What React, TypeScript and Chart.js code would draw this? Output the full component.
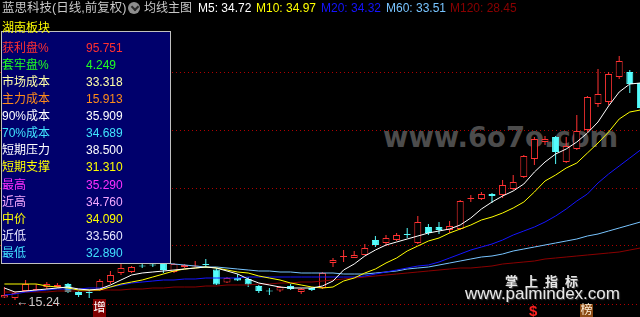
import React, { useEffect, useRef } from "react";
import { Chart, registerables } from "chart.js";
Chart.register(...registerables);

// ---------- data ----------
const candleIndex = [
  0, 1, 2, 3, 4, 5, 6, 7, 8, 9, 10, 11, 12, 13, 14, 15, 16, 17, 18, 19, 20,
  21, 22, 23, 24, 25, 26, 27, 28, 29, 30, 31, 32, 33, 34, 35, 36, 37, 38, 39,
  40, 41, 42, 43, 44, 45, 46, 47, 48, 49, 50, 51, 52, 53, 54, 55, 56, 57, 58,
  59, 60,
];
const opens = [15.49, 15.44, 16.14, 16.24, 16.54, 16.54, 16.84, 16.04, 16.04, 16.24, 17.04, 17.94, 18.04, 18.69, 18.79, 18.94, 18.04, 18.54, 18.59, 18.84, 18.29, 16.99, 17.44, 17.34, 16.64, 16.19, 16.19, 16.64, 16.04, 16.44, 16.44, 18.94, 19.54, 19.44, 19.74, 21.24, 20.94, 21.24, 21.84, 20.94, 22.54, 22.54, 22.24, 22.34, 25.34, 25.34, 25.84, 25.74, 26.34, 27.54, 29.34, 31.04, 31.54, 29.04, 30.34, 32.24, 34.84, 35.04, 37.54, 38.04, 36.94];
const closes = [15.74, 15.94, 16.84, 16.34, 16.84, 16.74, 16.04, 15.74, 15.94, 17.14, 17.74, 18.44, 18.54, 18.59, 18.69, 18.24, 18.84, 18.74, 18.69, 18.74, 16.79, 17.44, 17.19, 16.79, 16.14, 16.09, 16.54, 16.34, 16.34, 16.24, 17.94, 19.24, 19.64, 19.74, 20.44, 20.74, 21.44, 21.74, 21.74, 23.04, 21.94, 22.24, 22.64, 25.14, 25.44, 25.84, 25.64, 26.74, 27.04, 29.64, 31.34, 31.34, 30.04, 30.64, 32.14, 35.54, 35.84, 37.84, 39.14, 36.84, 34.44];
const highs = [16.54, 16.04, 17.24, 16.84, 17.04, 16.94, 16.94, 16.14, 16.24, 17.34, 18.14, 18.84, 18.64, 19.04, 19.04, 19.04, 18.94, 18.84, 19.14, 19.34, 18.44, 17.54, 17.84, 17.54, 16.74, 16.44, 16.64, 16.84, 16.44, 16.54, 18.04, 19.44, 20.24, 20.14, 20.84, 21.64, 21.74, 21.94, 22.44, 23.64, 22.84, 23.04, 23.14, 25.24, 25.74, 26.04, 25.94, 27.24, 27.74, 29.74, 31.54, 31.64, 31.64, 31.54, 33.74, 35.64, 38.34, 38.04, 39.64, 38.24, 37.04];
const lows = [15.44, 15.24, 16.04, 16.14, 16.34, 16.44, 15.94, 15.54, 15.44, 16.14, 16.84, 17.74, 17.94, 18.44, 18.54, 17.94, 17.94, 18.44, 18.54, 18.44, 16.74, 16.94, 17.14, 16.54, 15.94, 15.74, 16.04, 16.24, 15.84, 16.14, 16.34, 18.54, 19.04, 19.44, 19.74, 20.54, 20.64, 21.14, 21.44, 20.84, 21.74, 21.84, 21.94, 22.24, 25.04, 25.24, 24.94, 25.44, 26.24, 27.44, 28.74, 30.74, 28.84, 28.94, 30.24, 32.04, 34.54, 34.74, 37.34, 35.94, 34.24];

const ma5 = [16.44, 16.04, 16.14, 16.24, 16.34, 16.44, 16.54, 16.34, 16.24, 16.34, 16.74, 17.24, 17.74, 17.94, 18.04, 18.14, 18.24, 18.34, 18.44, 18.54, 18.44, 18.14, 17.84, 17.34, 16.94, 16.74, 16.54, 16.44, 16.44, 16.44, 16.64, 17.14, 18.24, 18.84, 19.64, 20.24, 20.74, 21.04, 21.34, 21.64, 21.94, 22.14, 22.34, 22.74, 23.44, 24.34, 25.04, 25.64, 26.14, 26.84, 28.04, 29.04, 29.84, 30.34, 31.04, 31.94, 33.04, 34.64, 36.04, 36.84, 36.94];
const ma10 = [16.84, 16.84, 16.84, 16.84, 16.64, 16.54, 16.44, 16.24, 16.24, 16.24, 16.54, 16.84, 17.04, 17.24, 17.54, 17.84, 18.14, 18.34, 18.44, 18.54, 18.44, 18.24, 18.04, 17.94, 17.64, 17.44, 17.24, 16.94, 16.74, 16.54, 16.44, 16.54, 17.14, 17.44, 17.94, 18.34, 18.94, 19.44, 20.14, 20.64, 21.14, 21.44, 21.94, 22.34, 22.74, 23.24, 23.54, 23.94, 24.44, 25.04, 26.04, 27.14, 27.74, 28.44, 28.94, 29.94, 30.94, 32.04, 33.34, 34.04, 34.24];
const ma20 = [15.74, 15.84, 16.04, 16.14, 16.24, 16.34, 16.34, 16.34, 16.44, 16.44, 16.54, 16.74, 16.94, 17.04, 17.14, 17.24, 17.24, 17.34, 17.34, 17.44, 17.44, 17.44, 17.44, 17.54, 17.54, 17.54, 17.54, 17.54, 17.54, 17.54, 17.54, 17.54, 17.54, 17.54, 17.64, 17.84, 18.04, 18.24, 18.44, 18.64, 18.74, 19.04, 19.44, 19.84, 20.24, 20.54, 20.84, 21.24, 21.74, 22.14, 22.54, 23.04, 23.64, 24.34, 25.14, 25.84, 26.94, 27.84, 28.64, 29.44, 30.24];
const ma60 = [19.64, 19.54, 19.54, 19.54, 19.44, 19.44, 19.44, 19.34, 19.24, 19.14, 19.14, 19.04, 19.04, 18.94, 18.94, 18.94, 18.84, 18.74, 18.64, 18.54, 18.54, 18.44, 18.34, 18.24, 18.14, 18.14, 18.04, 18.04, 17.94, 17.94, 17.94, 17.94, 17.84, 17.84, 17.84, 17.94, 18.04, 18.14, 18.34, 18.44, 18.54, 18.74, 18.94, 19.14, 19.34, 19.54, 19.64, 19.84, 20.14, 20.34, 20.54, 20.74, 20.94, 21.14, 21.34, 21.64, 21.84, 22.14, 22.44, 22.74, 23.04];
const ma120 = [16.04, 16.04, 16.04, 16.04, 16.04, 16.14, 16.14, 16.14, 16.14, 16.24, 16.24, 16.24, 16.34, 16.34, 16.44, 16.44, 16.54, 16.54, 16.54, 16.64, 16.64, 16.74, 16.74, 16.74, 16.84, 16.84, 16.94, 16.94, 17.04, 17.04, 17.14, 17.24, 17.34, 17.44, 17.54, 17.64, 17.74, 17.84, 17.94, 18.04, 18.14, 18.24, 18.34, 18.44, 18.44, 18.54, 18.64, 18.84, 18.94, 19.04, 19.14, 19.34, 19.44, 19.54, 19.64, 19.74, 19.84, 19.94, 20.04, 20.24, 20.44];

const gridPrices = [14.84, 20.64, 26.44, 32.24, 38.04];
const priceMin = 13.54;
const priceMax = 45.24;
const indexMin = -0.415;
const indexMax = 59.962;

const titleStock = "蓝思科技(日线,前复权)";
const titleIndicator = "均线主图";
const maLabels = ["M5: 34.72", "M10: 34.97", "M20: 34.32", "M60: 33.51", "M120: 28.45"];
const maColors = ["#FFFFFF", "#FFFF00", "#1414FF", "#78C4FF", "#8A0000"];
const maTitleLefts = [198, 256, 321, 386, 450];

const panelTitle = "湖南板块";
const panelLabels = ["获利盘%", "套牢盘%", "市场成本", "主力成本", "90%成本", "70%成本", "短期压力", "短期支撑", "最高", "近高", "中价", "近低", "最低"];
const panelValues = ["95.751", "4.249", "33.318", "15.913", "35.909", "34.689", "38.500", "31.310", "35.290", "34.760", "34.090", "33.560", "32.890"];
const panelColors = ["#FF3030", "#20FF20", "#FFFFA8", "#FF8C1A", "#FFFFFF", "#40E4FF", "#FFFFFF", "#FFFF00", "#FF30FF", "#F4A8FF", "#FFFF00", "#E8E8FF", "#40E0FF"];

const lowLabel = "←15.24";

const RED = "#FF3232";
const CYAN = "#54FCFC";
const FONT = '"Liberation Sans", "Noto Sans CJK SC", sans-serif';

export default function App() {
  const canvasRef = useRef<HTMLCanvasElement | null>(null);

  useEffect(() => {
    document.body.style.margin = "0";
    document.body.style.background = "#000";
    const canvas = canvasRef.current;
    if (!canvas) return;
    const up = candleIndex.map((i) => closes[i] >= opens[i]);
    const candleColors = candleIndex.map((i) => (up[i] ? RED : CYAN));
    const bodyFill = candleIndex.map((i) => (up[i] ? "#000000" : CYAN));
    const line = (label: string, values: number[], color: string, order: number) => ({
      type: "line" as const,
      label,
      data: candleIndex.map((x, i) => ({ x, y: values[i] })),
      borderColor: color,
      borderWidth: 1,
      pointRadius: 0,
      tension: 0,
      fill: false,
      order,
    });
    const chart = new Chart(canvas, {
      type: "bar",
      data: {
        datasets: [
          line("MA5", ma5, maColors[0], 0),
          line("MA10", ma10, maColors[1], 1),
          line("MA20", ma20, maColors[2], 2),
          line("MA60", ma60, maColors[3], 3),
          line("MA120", ma120, maColors[4], 4),
          {
            type: "bar",
            label: "body",
            data: candleIndex.map((x, i) => ({ x, y: [opens[i], closes[i]] })),
            backgroundColor: bodyFill,
            borderColor: candleColors,
            borderWidth: 1,
            borderSkipped: false,
            barThickness: 7,
            grouped: false,
            inflateAmount: 0,
            order: 5,
          },
          {
            type: "bar",
            label: "wick",
            data: candleIndex.map((x, i) => ({ x, y: [lows[i], highs[i]] })),
            backgroundColor: candleColors,
            borderWidth: 0,
            barThickness: 1,
            grouped: false,
            inflateAmount: 0,
            order: 6,
          },
        ] as any,
      },
      options: {
        animation: false,
        responsive: false,
        events: [],
        layout: { padding: 0 },
        plugins: { legend: { display: false }, tooltip: { enabled: false } },
        scales: {
          x: { type: "linear", display: false, min: indexMin, max: indexMax, offset: false },
          y: {
            type: "linear",
            min: priceMin,
            max: priceMax,
            ticks: { display: false },
            grid: { color: "#B00000", lineWidth: 1, drawTicks: false },
            border: { display: false, dash: [1, 3] },
            afterBuildTicks: (scale: any) => {
              scale.ticks = gridPrices.map((v) => ({ value: v }));
            },
          },
        },
      } as any,
    });
    return () => chart.destroy();
  }, []);

  const abs = (extra: React.CSSProperties): React.CSSProperties => ({
    position: "absolute",
    whiteSpace: "nowrap",
    fontFamily: FONT,
    ...extra,
  });

  return (
    <div style={{ position: "relative", width: 640, height: 317, background: "#000", overflow: "hidden" }}>
      {/* background watermark */}
      <div
        style={abs({
          left: 383,
          top: 121,
          fontFamily: '"DejaVu Sans", sans-serif',
          fontWeight: "bold",
          fontSize: 27.5,
          lineHeight: "32px",
          color: "#4C4C4C",
          zIndex: 0,
        })}
      >
        www.6o7o.com
      </div>

      <canvas ref={canvasRef} width={640} height={317} style={{ position: "absolute", left: 0, top: 0, zIndex: 1 }} />

      <div style={{ position: "absolute", left: 0, top: 0, width: 640, height: 317, zIndex: 2 }}>
        {/* title row */}
        <div style={abs({ left: 2, top: 1, fontSize: 12.5, lineHeight: "14px", color: "#C8C8C8" })}>{titleStock}</div>
        <div
          style={{
            position: "absolute",
            left: 128,
            top: 2,
            width: 12,
            height: 12,
            borderRadius: 6,
            background: "#8E8E8E",
          }}
        >
          <div
            style={{
              position: "absolute",
              left: 3.5,
              top: 2,
              width: 4,
              height: 4,
              borderRight: "2px solid #2A2A2A",
              borderBottom: "2px solid #2A2A2A",
              transform: "rotate(45deg)",
            }}
          />
        </div>
        <div style={abs({ left: 144, top: 1, fontSize: 12, lineHeight: "14px", color: "#C8C8C8" })}>{titleIndicator}</div>
        {maLabels.map((t, i) => (
          <div key={t} style={abs({ left: maTitleLefts[i], top: 1, fontSize: 12, lineHeight: "14px", color: maColors[i] })}>
            {t}
          </div>
        ))}

        {/* info panel */}
        <div
          style={{
            position: "absolute",
            left: 1,
            top: 31,
            width: 170,
            height: 233,
            boxSizing: "border-box",
            border: "1px solid #C0C0C0",
            background: "#00006C",
          }}
        />
        <div style={abs({ left: 2, top: 21, fontSize: 12, lineHeight: "14px", color: "#FFFF00" })}>{panelTitle}</div>
        {panelLabels.map((t, r) => (
          <React.Fragment key={t}>
            <div style={abs({ left: 2, top: 40.5 + 17.13 * r, fontSize: 12, lineHeight: "14px", color: panelColors[r] })}>{t}</div>
            <div style={abs({ left: 86, top: 40.5 + 17.13 * r, fontSize: 12, lineHeight: "14px", color: panelColors[r] })}>
              {panelValues[r]}
            </div>
          </React.Fragment>
        ))}

        {/* low marker */}
        <div style={abs({ left: 16, top: 294.5, fontSize: 12.5, lineHeight: "14px", color: "#C8C8C8" })}>{lowLabel}</div>

        {/* bottom markers */}
        <div
          style={abs({
            left: 93,
            top: 299,
            width: 13,
            height: 18,
            background: "#800000",
            color: "#FFFFFF",
            fontSize: 12.5,
            lineHeight: "18px",
            textAlign: "center",
          })}
        >
          增
        </div>
        <div style={abs({ left: 529, top: 303, fontSize: 15, lineHeight: "15px", fontWeight: "bold", color: "#FF2020" })}>$</div>
        <div
          style={abs({
            left: 580,
            top: 304,
            width: 13,
            height: 13,
            background: "#8B4A14",
            color: "#FFF0D8",
            fontSize: 12,
            lineHeight: "13px",
            textAlign: "center",
          })}
        >
          榜
        </div>

        {/* palmindex watermark */}
        <div
          style={abs({
            left: 505,
            top: 274,
            fontSize: 13,
            lineHeight: "15px",
            fontWeight: "bold",
            letterSpacing: "7px",
            color: "#E6E6E6",
            textShadow: "1px 1px 1px #404040",
          })}
        >
          掌上指标
        </div>
        <div
          style={abs({
            left: 465,
            top: 284,
            fontSize: 17,
            lineHeight: "20px",
            color: "#E8E8E8",
            textShadow: "1px 1px 1px #404040",
          })}
        >
          www.palmindex.com
        </div>
      </div>
    </div>
  );
}
